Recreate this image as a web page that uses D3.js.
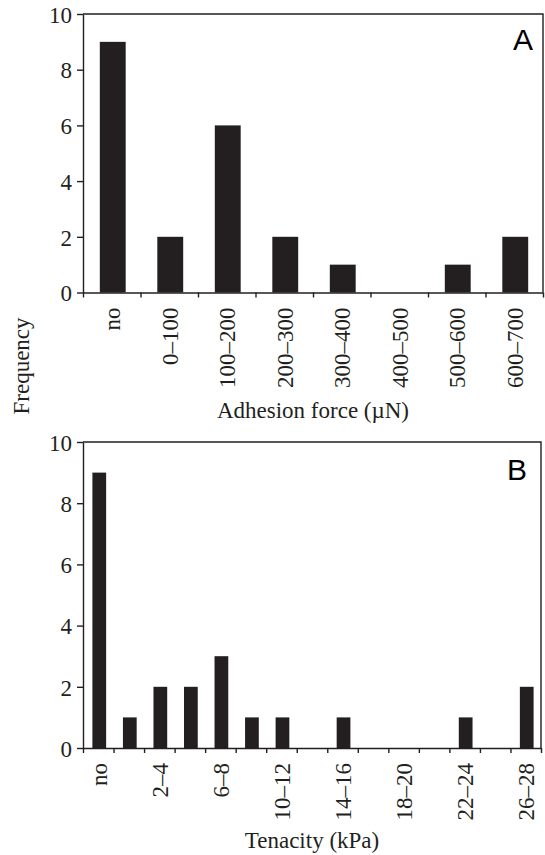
<!DOCTYPE html>
<html>
<head>
<meta charset="utf-8">
<script src="https://cdn.jsdelivr.net/npm/d3@7"></script>
<style>
  body { margin: 0; background: #fff; }
  svg { display: block; }
  .tick text { font-family: "Liberation Serif", "Times New Roman", serif; font-size: 23px; fill: #231f20; }
  .axis path, .axis line { stroke: #231f20; stroke-width: 1.4px; }
</style>
</head>
<body>
<svg id="chart" width="545" height="855"></svg>
<script>
// Panel A: adhesion force
const adhesionBins = ['no', '0\u2013100', '100\u2013200', '200\u2013300', '300\u2013400', '400\u2013500', '500\u2013600', '600\u2013700'];
const adhesionCounts = [9, 2, 6, 2, 1, 0, 1, 2];

// Panel B: tenacity
const tenacityBins = ['no', '0\u20132', '2\u20134', '4\u20136', '6\u20138', '8\u201310', '10\u201312', '12\u201314',
    '14\u201316', '16\u201318', '18\u201320', '20\u201322', '22\u201324', '24\u201326', '26\u201328'];
const tenacityCounts = [9, 1, 2, 2, 3, 1, 1, 0, 1, 0, 0, 0, 1, 0, 2];

const yTicks = [0, 2, 4, 6, 8, 10];

const ink = '#231f20';
const svg = d3.select('#chart');

function drawPanel(opts) {
    const {bins, counts, left, right, top, bottom, letter, letterX, letterY, title, titleY, showEvery} = opts;

    const g = svg.append('g');

    const x = d3.scaleBand()
        .domain(bins)
        .range([left, right])
        .paddingInner(0.55)
        .paddingOuter(0.275);

    const y = d3.scaleLinear()
        .domain([0, 10])
        .range([bottom, top]);

    // bars
    g.selectAll('.bar')
        .data(bins)
        .enter()
        .append('rect')
        .attr('class', 'bar')
        .attr('x', d => x(d) + 1)
        .attr('y', (d, i) => y(counts[i]))
        .attr('width', x.bandwidth())
        .attr('height', (d, i) => y(0) - y(counts[i]))
        .attr('fill', ink);

    // frame (top + right)
    g.append('path')
        .attr('d', `M${left},${top}H${right}V${bottom}`)
        .attr('fill', 'none')
        .attr('stroke', ink)
        .attr('stroke-width', 1.4);

    // y axis
    g.append('g')
        .attr('class', 'axis')
        .attr('transform', `translate(${left},0)`)
        .call(d3.axisLeft(y).tickValues(yTicks).tickSize(6).tickPadding(5).tickSizeOuter(0))
        .call(a => a.selectAll('.tick text').attr('dy', '0.36em'));

    // x tick marks at bin boundaries
    const edge = d3.scaleLinear().domain([0, bins.length]).range([left, right]);
    g.append('g')
        .attr('class', 'axis')
        .attr('transform', `translate(0,${bottom})`)
        .call(d3.axisBottom(edge).tickValues(d3.range(bins.length + 1)).tickFormat('').tickSize(5).tickSizeOuter(0));

    // x labels, rotated
    g.append('g')
        .attr('class', 'axis labels')
        .attr('transform', `translate(0,${bottom})`)
        .call(d3.axisBottom(x)
            .tickSize(0)
            .tickFormat((d, i) => (i % showEvery === 0 ? d : '')))
        .call(a => a.select('.domain').remove())
        .call(a => a.selectAll('.tick text')
            .attr('transform', 'rotate(-90)')
            .attr('text-anchor', 'end')
            .attr('x', -15)
            .attr('y', 0)
            .attr('dy', '0.36em'));

    // panel letter
    g.append('text')
        .attr('x', letterX)
        .attr('y', letterY)
        .attr('text-anchor', 'middle')
        .style('font-family', '"Liberation Sans", Arial, sans-serif')
        .style('font-size', '30px')
        .attr('fill', '#000')
        .text(letter);

    // axis title
    g.append('text')
        .attr('x', (left + right) / 2)
        .attr('y', titleY)
        .attr('text-anchor', 'middle')
        .style('font-family', '"Liberation Serif", "Times New Roman", serif')
        .style('font-size', '23px')
        .attr('fill', ink)
        .text(title);
}

drawPanel({
    bins: adhesionBins, counts: adhesionCounts,
    left: 83, right: 543, top: 14, bottom: 292.5,
    letter: 'A', letterX: 523, letterY: 50,
    title: 'Adhesion force (\u00b5N)', titleY: 418, showEvery: 1
});

drawPanel({
    bins: tenacityBins, counts: tenacityCounts,
    left: 83, right: 541, top: 442, bottom: 748,
    letter: 'B', letterX: 517, letterY: 480,
    title: 'Tenacity (kPa)', titleY: 848, showEvery: 2
});

// shared y title
svg.append('text')
    .attr('transform', 'translate(29,366) rotate(-90)')
    .attr('text-anchor', 'middle')
    .style('font-family', '"Liberation Serif", "Times New Roman", serif')
    .style('font-size', '23px')
    .attr('fill', ink)
    .text('Frequency');
</script>
</body>
</html>
